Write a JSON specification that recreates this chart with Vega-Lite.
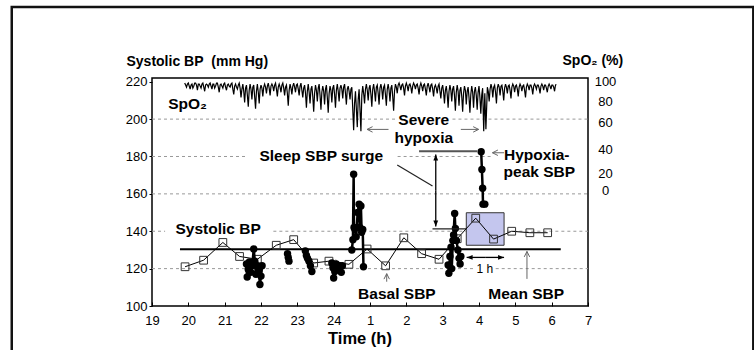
{
"$schema":"https://vega.github.io/schema/vega-lite/v6.json",
"width":436,"height":228,
"autosize":{"type":"none"},
"padding":{"left":152,"top":78,"right":166,"bottom":44},
"background":"white",
"config":{"font":"Liberation Sans","view":{"stroke":"#000","strokeWidth":1.5},"axis":{"labelFont":"Liberation Sans","titleFont":"Liberation Sans","labelColor":"#000","titleColor":"#000","grid":false,"domain":false,"tickColor":"#000","labelFontSize":13,"labelOverlap":false}},
"datasets":{
"frame":[{"t":15.14,"t2":35.55,"bp":260,"bp2":70}],
"grid":[{"bp":200,"t":19,"t2":25.70},{"bp":200,"t":27.27,"t2":31},{"bp":180,"t":19,"t2":21.57},{"bp":180,"t":25.76,"t2":28.32},{"bp":160,"t":19,"t2":31},{"bp":140,"t":19,"t2":19.36},{"bp":140,"t":22.34,"t2":31},{"bp":120,"t":19,"t2":27.91},{"bp":120,"t":28.46,"t2":31}],
"box":[{"t":27.65,"t2":28.69,"bp":132.5,"bp2":149.9}],
"mean":[{"t":19.77,"t2":30.25,"bp":130.3}],
"squares":[{"t":19.91,"bp":121},{"t":20.42,"bp":124.5},{"t":20.95,"bp":134},{"t":21.41,"bp":126.5},{"t":21.90,"bp":125},{"t":22.42,"bp":132.5},{"t":22.90,"bp":135.5},{"t":23.45,"bp":123},{"t":23.87,"bp":124},{"t":24.42,"bp":122.3},{"t":24.92,"bp":130.5},{"t":25.43,"bp":121.5},{"t":25.93,"bp":136.5},{"t":26.42,"bp":128},{"t":26.90,"bp":125},{"t":27.40,"bp":136},{"t":27.91,"bp":147},{"t":28.40,"bp":135.8},{"t":28.90,"bp":140},{"t":29.40,"bp":139.2},{"t":29.89,"bp":139.2}],
"sbp":[
{"seg":"A","t":21.60,"bp":122.5},{"seg":"A","t":21.62,"bp":115.5},{"seg":"A","t":21.65,"bp":119.5},{"seg":"A","t":21.68,"bp":123.5},{"seg":"A","t":21.72,"bp":118},{"seg":"A","t":21.76,"bp":121.5},{"seg":"A","t":21.80,"bp":130.5},{"seg":"A","t":21.83,"bp":124},{"seg":"A","t":21.86,"bp":117},{"seg":"A","t":21.90,"bp":121.5},{"seg":"A","t":21.94,"bp":119},{"seg":"A","t":21.97,"bp":111.5},{"seg":"A","t":22.00,"bp":116},{"seg":"A","t":22.03,"bp":121.5},
{"seg":"B","t":22.73,"bp":128},{"seg":"B","t":22.75,"bp":126},{"seg":"B","t":22.77,"bp":124},
{"seg":"C","t":23.22,"bp":129.5},{"seg":"C","t":23.25,"bp":127},{"seg":"C","t":23.28,"bp":125.5},{"seg":"C","t":23.32,"bp":124},{"seg":"C","t":23.36,"bp":121.5},{"seg":"C","t":23.40,"bp":118.5},
{"seg":"D","t":23.95,"bp":123},{"seg":"D","t":23.98,"bp":120.5},{"seg":"D","t":24.00,"bp":115},{"seg":"D","t":24.03,"bp":118.5},{"seg":"D","t":24.07,"bp":122.5},{"seg":"D","t":24.12,"bp":119.5},{"seg":"D","t":24.17,"bp":121.5},{"seg":"D","t":24.21,"bp":118},{"seg":"D","t":24.24,"bp":121.5},
{"seg":"E","t":24.50,"bp":130},{"seg":"E","t":24.53,"bp":135.5},{"seg":"E","t":24.55,"bp":170.5},{"seg":"E","t":24.56,"bp":142},{"seg":"E","t":24.58,"bp":141.5},{"seg":"E","t":24.62,"bp":137},{"seg":"E","t":24.66,"bp":150},{"seg":"E","t":24.70,"bp":154.5},{"seg":"E","t":24.72,"bp":142},{"seg":"E","t":24.75,"bp":153.5},{"seg":"E","t":24.77,"bp":139.5},{"seg":"E","t":24.80,"bp":141},{"seg":"E","t":24.82,"bp":121},
{"seg":"F","t":27.15,"bp":122},{"seg":"F","t":27.17,"bp":117.5},{"seg":"F","t":27.20,"bp":126.5},{"seg":"F","t":27.23,"bp":131.5},{"seg":"F","t":27.25,"bp":120},{"seg":"F","t":27.28,"bp":135},{"seg":"F","t":27.30,"bp":138},{"seg":"F","t":27.33,"bp":149.5},{"seg":"F","t":27.35,"bp":141.5},{"seg":"F","t":27.38,"bp":135},{"seg":"F","t":27.42,"bp":130},{"seg":"F","t":27.45,"bp":125.5},{"seg":"F","t":27.48,"bp":122.5},{"seg":"F","t":27.50,"bp":126.5},
{"seg":"G","t":28.06,"bp":182.5},{"seg":"G","t":28.08,"bp":173},{"seg":"G","t":28.10,"bp":163},{"seg":"G","t":28.11,"bp":154.5},{"seg":"G","t":28.16,"bp":154.5}],
"segs":[{"kind":"top","t":26.35,"t2":27.95,"bp":182.8,"bp2":182.8},{"kind":"base","t":26.72,"t2":27.65,"bp":141.3,"bp2":141.3},{"kind":"pointer","t":25.75,"t2":26.72,"bp":175.4,"bp2":164.2}],
"arrows":[{"kind":"open","dir":"left","t":25.51,"bp":194.5,"t2":24.92,"bp2":194.5},{"kind":"open","dir":"right","t":27.50,"bp":194.5,"t2":27.99,"bp2":194.5},{"kind":"open","dir":"left","t":28.69,"bp":182,"t2":28.37,"bp2":182},{"kind":"open","dir":"up","t":25.46,"bp":113,"t2":25.46,"bp2":117.3},{"kind":"open","dir":"up","t":29.32,"bp":114.5,"t2":29.32,"bp2":129.2},{"kind":"solid","dir":"up","t":26.81,"bp":162,"t2":26.81,"bp2":181},{"kind":"solid","dir":"down","t":26.81,"bp":162,"t2":26.81,"bp2":142.6},{"kind":"solid","dir":"left","t":28.17,"bp":126,"t2":27.66,"bp2":126},{"kind":"solid","dir":"right","t":28.17,"bp":126,"t2":28.69,"bp2":126}],
"labels":[{"label":"SpO₂","t":19.98,"bp":208},{"label":"Systolic BP","t":20.82,"bp":141},{"label":"Sleep SBP surge","t":23.66,"bp":180.3},{"label":"Severe","t":26.48,"bp":199.5},{"label":"hypoxia","t":26.48,"bp":189.7},{"label":"Hypoxia-","t":29.59,"bp":180.7},{"label":"peak SBP","t":29.66,"bp":171.9},{"label":"Basal SBP","t":25.74,"bp":106.4},{"label":"Mean SBP","t":29.30,"bp":106.4}],
"note":[{"label":"1 h","t":28.16,"bp":119.6}],
"spo2":[{"t":19.9,"s":98},{"t":19.925,"s":96},{"t":19.95,"s":94},{"t":19.975,"s":97},{"t":20.0,"s":98},{"t":20.025,"s":95},{"t":20.05,"s":92},{"t":20.075,"s":96},{"t":20.1,"s":97},{"t":20.125,"s":93},{"t":20.15,"s":95},{"t":20.175,"s":98},{"t":20.2,"s":98},{"t":20.225,"s":96},{"t":20.25,"s":91},{"t":20.275,"s":97},{"t":20.3,"s":97},{"t":20.325,"s":95},{"t":20.35,"s":93},{"t":20.375,"s":97},{"t":20.4,"s":98},{"t":20.425,"s":94},{"t":20.45,"s":90},{"t":20.475,"s":96},{"t":20.5,"s":97},{"t":20.525,"s":96},{"t":20.55,"s":94},{"t":20.575,"s":97},{"t":20.6,"s":98},{"t":20.625,"s":95},{"t":20.65,"s":92},{"t":20.675,"s":97},{"t":20.7,"s":97},{"t":20.725,"s":93},{"t":20.75,"s":95},{"t":20.775,"s":98},{"t":20.8,"s":98},{"t":20.825,"s":94},{"t":20.85,"s":89},{"t":20.875,"s":96},{"t":20.9,"s":97},{"t":20.925,"s":95},{"t":20.95,"s":93},{"t":20.975,"s":97},{"t":21.0,"s":98},{"t":21.025,"s":94},{"t":21.05,"s":91},{"t":21.075,"s":96},{"t":21.1,"s":97},{"t":21.125,"s":95},{"t":21.15,"s":94},{"t":21.175,"s":97},{"t":21.2,"s":98},{"t":21.225,"s":92},{"t":21.25,"s":87},{"t":21.275,"s":95},{"t":21.3,"s":97},{"t":21.325,"s":94},{"t":21.35,"s":92},{"t":21.375,"s":96},{"t":21.4,"s":98},{"t":21.425,"s":93},{"t":21.45,"s":84},{"t":21.475,"s":92},{"t":21.5,"s":97},{"t":21.525,"s":90},{"t":21.55,"s":79},{"t":21.575,"s":93},{"t":21.6,"s":96},{"t":21.625,"s":86},{"t":21.65,"s":75},{"t":21.675,"s":91},{"t":21.7,"s":97},{"t":21.725,"s":92},{"t":21.75,"s":82},{"t":21.775,"s":94},{"t":21.8,"s":96},{"t":21.825,"s":85},{"t":21.85,"s":73},{"t":21.875,"s":90},{"t":21.9,"s":97},{"t":21.925,"s":89},{"t":21.95,"s":78},{"t":21.975,"s":92},{"t":22.0,"s":96},{"t":22.025,"s":93},{"t":22.05,"s":85},{"t":22.075,"s":94},{"t":22.1,"s":97},{"t":22.125,"s":94},{"t":22.15,"s":88},{"t":22.175,"s":95},{"t":22.2,"s":98},{"t":22.225,"s":93},{"t":22.25,"s":86},{"t":22.275,"s":95},{"t":22.3,"s":97},{"t":22.325,"s":95},{"t":22.35,"s":90},{"t":22.375,"s":96},{"t":22.4,"s":98},{"t":22.425,"s":92},{"t":22.45,"s":85},{"t":22.475,"s":94},{"t":22.5,"s":97},{"t":22.525,"s":94},{"t":22.55,"s":89},{"t":22.575,"s":96},{"t":22.6,"s":98},{"t":22.625,"s":93},{"t":22.65,"s":86},{"t":22.675,"s":94},{"t":22.7,"s":96},{"t":22.725,"s":88},{"t":22.75,"s":76},{"t":22.775,"s":91},{"t":22.8,"s":97},{"t":22.825,"s":93},{"t":22.85,"s":87},{"t":22.875,"s":95},{"t":22.9,"s":98},{"t":22.925,"s":94},{"t":22.95,"s":89},{"t":22.975,"s":96},{"t":23.0,"s":97},{"t":23.025,"s":92},{"t":23.05,"s":86},{"t":23.075,"s":95},{"t":23.1,"s":98},{"t":23.125,"s":91},{"t":23.15,"s":84},{"t":23.175,"s":93},{"t":23.2,"s":96},{"t":23.225,"s":88},{"t":23.25,"s":74},{"t":23.275,"s":90},{"t":23.3,"s":97},{"t":23.325,"s":89},{"t":23.35,"s":78},{"t":23.375,"s":92},{"t":23.4,"s":95},{"t":23.425,"s":85},{"t":23.45,"s":70},{"t":23.475,"s":88},{"t":23.5,"s":96},{"t":23.525,"s":91},{"t":23.55,"s":80},{"t":23.575,"s":93},{"t":23.6,"s":97},{"t":23.625,"s":86},{"t":23.65,"s":72},{"t":23.675,"s":89},{"t":23.7,"s":95},{"t":23.725,"s":90},{"t":23.75,"s":77},{"t":23.775,"s":92},{"t":23.8,"s":96},{"t":23.825,"s":84},{"t":23.85,"s":69},{"t":23.875,"s":88},{"t":23.9,"s":95},{"t":23.925,"s":91},{"t":23.95,"s":79},{"t":23.975,"s":93},{"t":24.0,"s":96},{"t":24.025,"s":87},{"t":24.05,"s":74},{"t":24.075,"s":91},{"t":24.1,"s":97},{"t":24.125,"s":90},{"t":24.15,"s":80},{"t":24.175,"s":93},{"t":24.2,"s":96},{"t":24.225,"s":92},{"t":24.25,"s":83},{"t":24.275,"s":94},{"t":24.3,"s":97},{"t":24.325,"s":88},{"t":24.35,"s":77},{"t":24.375,"s":92},{"t":24.4,"s":95},{"t":24.425,"s":90},{"t":24.45,"s":82},{"t":24.475,"s":92},{"t":24.5,"s":94},{"t":24.55,"s":52},{"t":24.575,"s":78},{"t":24.6,"s":90},{"t":24.65,"s":55},{"t":24.675,"s":82},{"t":24.7,"s":92},{"t":24.75,"s":51},{"t":24.775,"s":86},{"t":24.8,"s":95},{"t":24.825,"s":88},{"t":24.85,"s":78},{"t":24.875,"s":92},{"t":24.9,"s":97},{"t":24.925,"s":91},{"t":24.95,"s":81},{"t":24.975,"s":93},{"t":25.0,"s":96},{"t":25.025,"s":87},{"t":25.05,"s":75},{"t":25.075,"s":92},{"t":25.1,"s":97},{"t":25.125,"s":90},{"t":25.15,"s":80},{"t":25.175,"s":94},{"t":25.2,"s":96},{"t":25.225,"s":88},{"t":25.25,"s":77},{"t":25.275,"s":93},{"t":25.3,"s":97},{"t":25.325,"s":92},{"t":25.35,"s":82},{"t":25.375,"s":94},{"t":25.4,"s":96},{"t":25.425,"s":87},{"t":25.45,"s":76},{"t":25.475,"s":92},{"t":25.5,"s":97},{"t":25.525,"s":91},{"t":25.55,"s":80},{"t":25.575,"s":93},{"t":25.6,"s":96},{"t":25.625,"s":85},{"t":25.65,"s":71},{"t":25.675,"s":90},{"t":25.7,"s":97},{"t":25.725,"s":94},{"t":25.75,"s":88},{"t":25.775,"s":96},{"t":25.8,"s":98},{"t":25.825,"s":95},{"t":25.85,"s":91},{"t":25.875,"s":96},{"t":25.9,"s":97},{"t":25.925,"s":93},{"t":25.95,"s":86},{"t":25.975,"s":95},{"t":26.0,"s":98},{"t":26.025,"s":95},{"t":26.05,"s":90},{"t":26.075,"s":96},{"t":26.1,"s":97},{"t":26.125,"s":94},{"t":26.15,"s":88},{"t":26.175,"s":95},{"t":26.2,"s":98},{"t":26.225,"s":96},{"t":26.25,"s":92},{"t":26.275,"s":96},{"t":26.3,"s":97},{"t":26.325,"s":93},{"t":26.35,"s":87},{"t":26.375,"s":95},{"t":26.4,"s":98},{"t":26.425,"s":95},{"t":26.45,"s":90},{"t":26.475,"s":96},{"t":26.5,"s":97},{"t":26.525,"s":92},{"t":26.55,"s":86},{"t":26.575,"s":95},{"t":26.6,"s":98},{"t":26.625,"s":94},{"t":26.65,"s":89},{"t":26.675,"s":96},{"t":26.7,"s":97},{"t":26.725,"s":92},{"t":26.75,"s":85},{"t":26.775,"s":94},{"t":26.8,"s":96},{"t":26.825,"s":93},{"t":26.85,"s":88},{"t":26.875,"s":95},{"t":26.9,"s":97},{"t":26.925,"s":90},{"t":26.95,"s":83},{"t":26.975,"s":93},{"t":27.0,"s":96},{"t":27.025,"s":89},{"t":27.05,"s":78},{"t":27.075,"s":91},{"t":27.1,"s":95},{"t":27.125,"s":87},{"t":27.15,"s":74},{"t":27.175,"s":90},{"t":27.2,"s":96},{"t":27.225,"s":91},{"t":27.25,"s":80},{"t":27.275,"s":92},{"t":27.3,"s":95},{"t":27.325,"s":86},{"t":27.35,"s":71},{"t":27.375,"s":89},{"t":27.4,"s":96},{"t":27.425,"s":90},{"t":27.45,"s":76},{"t":27.475,"s":91},{"t":27.5,"s":94},{"t":27.525,"s":85},{"t":27.55,"s":70},{"t":27.575,"s":88},{"t":27.6,"s":95},{"t":27.625,"s":91},{"t":27.65,"s":77},{"t":27.675,"s":90},{"t":27.7,"s":94},{"t":27.725,"s":84},{"t":27.75,"s":69},{"t":27.775,"s":87},{"t":27.8,"s":95},{"t":27.825,"s":89},{"t":27.85,"s":74},{"t":27.875,"s":90},{"t":27.9,"s":94},{"t":27.925,"s":86},{"t":27.95,"s":72},{"t":27.975,"s":89},{"t":28.0,"s":95},{"t":28.025,"s":84},{"t":28.05,"s":68},{"t":28.075,"s":86},{"t":28.1,"s":93},{"t":28.13,"s":51},{"t":28.16,"s":88},{"t":28.19,"s":53},{"t":28.23,"s":94},{"t":28.255,"s":90},{"t":28.28,"s":80},{"t":28.305,"s":92},{"t":28.33,"s":97},{"t":28.355,"s":93},{"t":28.38,"s":84},{"t":28.405,"s":94},{"t":28.43,"s":96},{"t":28.455,"s":89},{"t":28.48,"s":78},{"t":28.505,"s":93},{"t":28.53,"s":97},{"t":28.555,"s":94},{"t":28.58,"s":86},{"t":28.605,"s":95},{"t":28.63,"s":96},{"t":28.655,"s":90},{"t":28.68,"s":81},{"t":28.705,"s":93},{"t":28.73,"s":97},{"t":28.755,"s":94},{"t":28.78,"s":88},{"t":28.805,"s":95},{"t":28.83,"s":96},{"t":28.855,"s":91},{"t":28.88,"s":83},{"t":28.905,"s":94},{"t":28.93,"s":97},{"t":28.955,"s":95},{"t":28.98,"s":89},{"t":29.005,"s":95},{"t":29.03,"s":96},{"t":29.055,"s":92},{"t":29.08,"s":85},{"t":29.105,"s":94},{"t":29.13,"s":97},{"t":29.155,"s":95},{"t":29.18,"s":90},{"t":29.205,"s":95},{"t":29.23,"s":96},{"t":29.255,"s":91},{"t":29.28,"s":84},{"t":29.305,"s":94},{"t":29.33,"s":97},{"t":29.355,"s":95},{"t":29.38,"s":91},{"t":29.405,"s":96},{"t":29.43,"s":96},{"t":29.455,"s":93},{"t":29.48,"s":87},{"t":29.505,"s":95},{"t":29.53,"s":97},{"t":29.555,"s":95},{"t":29.58,"s":92},{"t":29.605,"s":96},{"t":29.63,"s":96},{"t":29.655,"s":93},{"t":29.68,"s":88},{"t":29.705,"s":95},{"t":29.73,"s":97},{"t":29.755,"s":95},{"t":29.78,"s":91},{"t":29.805,"s":96},{"t":29.83,"s":96},{"t":29.855,"s":93},{"t":29.88,"s":89},{"t":29.905,"s":95},{"t":29.93,"s":97},{"t":29.955,"s":95},{"t":29.98,"s":92},{"t":30.005,"s":96},{"t":30.03,"s":96},{"t":30.055,"s":94},{"t":30.08,"s":90},{"t":30.1,"s":95},{"t":30.12,"s":97}]
},
"layer":[
{"resolve":{"scale":{"shape":"independent"}},
"layer":[
{"data":{"name":"frame"},"mark":{"type":"rect","filled":false,"stroke":"#111","strokeWidth":2.5,"clip":false},
"encoding":{
"x":{"field":"t","type":"quantitative","scale":{"domain":[19,31],"nice":false,"zero":false},"axis":{"title":"Time (h)","values":[19,20,21,22,23,24,25,26,27,28,29,30,31],"tickCount":30,"labelExpr":"'' + (datum.value > 24 ? datum.value - 24 : datum.value)","labelFlush":false,"labelOverlap":false,"tickSize":-4,"labelPadding":12,"labelFontSize":13,"titleFontSize":16.5,"titleFontWeight":"bold","titleX":207.5,"titleY":32,"titleBaseline":"middle"}},
"x2":{"field":"t2"},
"y":{"field":"bp","type":"quantitative","scale":{"domain":[100,222],"nice":false,"zero":false},"axis":{"title":"Systolic BP\u00a0 (mm Hg)","values":[100,120,140,160,180,200,220],"tickCount":30,"labelOverlap":false,"tickSize":3,"labelPadding":2,"labelFontSize":13,"titleAngle":0,"titleAlign":"left","titleX":-26,"titleY":-17,"titleBaseline":"middle","titleFontSize":14,"titleFontWeight":"bold"}},
"y2":{"field":"bp2"}}},
{"data":{"name":"grid"},"mark":{"type":"rule","color":"#999","strokeWidth":1,"strokeDash":[3,3]},"encoding":{"x":{"field":"t","type":"quantitative"},"x2":{"field":"t2"},"y":{"field":"bp","type":"quantitative"}}},
{"data":{"name":"box"},"mark":{"type":"rect","fill":"#c4c6ee","stroke":"#333","strokeWidth":1},"encoding":{"x":{"field":"t","type":"quantitative"},"x2":{"field":"t2"},"y":{"field":"bp","type":"quantitative"},"y2":{"field":"bp2"}}},
{"data":{"name":"mean"},"mark":{"type":"rule","color":"#000","strokeWidth":2},"encoding":{"x":{"field":"t","type":"quantitative"},"x2":{"field":"t2"},"y":{"field":"bp","type":"quantitative"}}},
{"data":{"name":"squares"},"mark":{"type":"line","color":"#000","strokeWidth":1},"encoding":{"x":{"field":"t","type":"quantitative"},"y":{"field":"bp","type":"quantitative"}}},
{"data":{"name":"squares"},"mark":{"type":"point","shape":"square","filled":false,"stroke":"#333","strokeWidth":1,"size":60,"opacity":1},"encoding":{"x":{"field":"t","type":"quantitative"},"y":{"field":"bp","type":"quantitative"}}},
{"data":{"name":"sbp"},"mark":{"type":"line","color":"#000","strokeWidth":2.5},"encoding":{"x":{"field":"t","type":"quantitative"},"y":{"field":"bp","type":"quantitative"},"detail":{"field":"seg","type":"nominal"}}},
{"data":{"name":"sbp"},"mark":{"type":"point","shape":"circle","filled":true,"color":"#000","size":55,"opacity":1},"encoding":{"x":{"field":"t","type":"quantitative"},"y":{"field":"bp","type":"quantitative"}}},
{"data":{"name":"segs"},"transform":[{"filter":"datum.kind == 'top'"}],"mark":{"type":"rule","color":"#555","strokeWidth":2},"encoding":{"x":{"field":"t","type":"quantitative"},"x2":{"field":"t2"},"y":{"field":"bp","type":"quantitative"},"y2":{"field":"bp2"}}},
{"data":{"name":"segs"},"transform":[{"filter":"datum.kind != 'top'"}],"mark":{"type":"rule","color":"#222","strokeWidth":1.2},"encoding":{"x":{"field":"t","type":"quantitative"},"x2":{"field":"t2"},"y":{"field":"bp","type":"quantitative"},"y2":{"field":"bp2"}}},
{"data":{"name":"arrows"},"transform":[{"filter":"datum.kind == 'open'"}],"mark":{"type":"rule","color":"#666","strokeWidth":1},"encoding":{"x":{"field":"t","type":"quantitative"},"x2":{"field":"t2"},"y":{"field":"bp","type":"quantitative"},"y2":{"field":"bp2"}}},
{"data":{"name":"arrows"},"transform":[{"filter":"datum.kind == 'solid'"}],"mark":{"type":"rule","color":"#000","strokeWidth":1.3},"encoding":{"x":{"field":"t","type":"quantitative"},"x2":{"field":"t2"},"y":{"field":"bp","type":"quantitative"},"y2":{"field":"bp2"}}},
{"data":{"name":"arrows"},"transform":[{"filter":"datum.kind == 'open'"}],"mark":{"type":"point","filled":false,"stroke":"#666","strokeWidth":1,"size":30,"opacity":1},"encoding":{"x":{"field":"t2","type":"quantitative"},"y":{"field":"bp2","type":"quantitative"},"shape":{"field":"dir","type":"nominal","scale":{"domain":["left","right","up","down"],"range":["M2,-1L0,0L2,1","M-2,-1L0,0L-2,1","M-1,2L0,0L1,2","M-1,-2L0,0L1,-2"]},"legend":null}}},
{"data":{"name":"arrows"},"transform":[{"filter":"datum.kind == 'solid'"}],"mark":{"type":"point","filled":true,"color":"#000","size":36,"opacity":1},"encoding":{"x":{"field":"t2","type":"quantitative"},"y":{"field":"bp2","type":"quantitative"},"shape":{"field":"dir","type":"nominal","scale":{"domain":["left","right","up","down"],"range":["M0,0L2,-0.8L2,0.8Z","M0,0L-2,-0.8L-2,0.8Z","M0,0L-0.8,2L0.8,2Z","M0,0L-0.8,-2L0.8,-2Z"]},"legend":null}}},
{"data":{"name":"labels"},"mark":{"type":"text","font":"Liberation Sans","fontSize":15.5,"fontWeight":"bold","align":"center","baseline":"middle","color":"#000"},"encoding":{"x":{"field":"t","type":"quantitative"},"y":{"field":"bp","type":"quantitative"},"text":{"field":"label"}}},
{"data":{"name":"note"},"mark":{"type":"text","font":"Liberation Sans","fontSize":12,"align":"center","baseline":"middle","color":"#000"},"encoding":{"x":{"field":"t","type":"quantitative"},"y":{"field":"bp","type":"quantitative"},"text":{"field":"label"}}}
]},
{"data":{"name":"spo2"},"mark":{"type":"line","color":"#000","strokeWidth":1.2},
"encoding":{"x":{"field":"t","type":"quantitative"},
"y":{"field":"s","type":"quantitative","scale":{"domain":[-119.5,102.93],"nice":false,"zero":false},"axis":{"orient":"right","title":"SpO₂ (%)","values":[100,80,60,33.6,10.2,-7.3],"tickCount":30,"labelExpr":"datum.value > 90 ? '100' : datum.value > 70 ? '80' : datum.value > 50 ? '60' : datum.value > 20 ? '40' : datum.value > 0 ? '20' : '0'","ticks":false,"tickSize":0,"labelPadding":17,"labelAlign":"center","labelOverlap":false,"labelFontSize":13,"titleAngle":0,"titleAlign":"left","titleX":-26,"titleY":-18,"titleBaseline":"middle","titleFontSize":14,"titleFontWeight":"bold"}}}}
],
"resolve":{"scale":{"y":"independent"}}
}
